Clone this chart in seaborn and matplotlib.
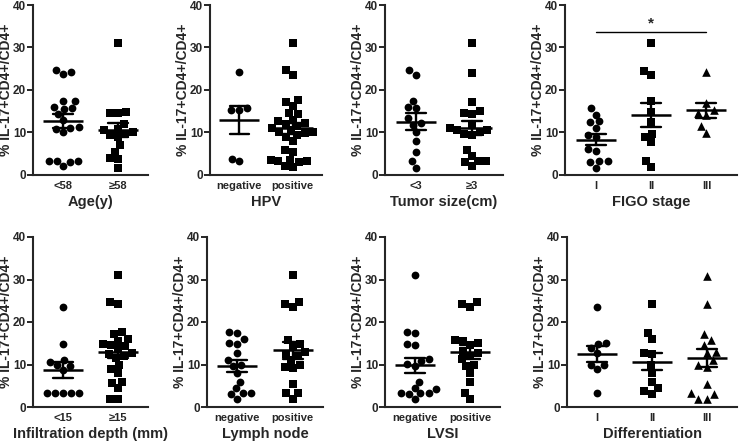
import matplotlib

matplotlib.use("Agg")
import matplotlib.pyplot as plt
import numpy as np
import pandas as pd
import seaborn as sns

# % IL-17+CD4+/CD4+ values, one list per group
age_lt58 = [24.7, 23.7, 24.3, 17.5, 17.3, 15.8, 15.9, 15.5, 14.3, 12.9, 11.0, 10.9, 11.3, 10.2, 3.3, 3.3, 2.0, 3.2, 3.1]
age_ge58 = [31.0, 14.9, 14.7, 14.5, 12.0, 10.8, 10.5, 10.0, 9.7, 9.3, 8.9, 7.0, 5.5, 4.0, 3.8, 1.7]

hpv_neg = [24.3, 15.2, 15.4, 15.8, 3.2, 3.8]
hpv_pos = [31.0, 24.6, 23.6, 17.6, 17.2, 16.2, 14.6, 14.4, 13.0, 12.7, 12.3, 12.0, 11.5, 11.0, 10.5,
           10.2, 10.0, 9.8, 9.5, 9.0, 8.0, 5.8, 5.5, 3.5, 3.3, 3.2, 3.0, 2.0, 1.8, 3.6]

size_lt3 = [24.7, 23.6, 17.5, 15.8, 15.9, 13.3, 12.3, 11.8, 10.1, 7.9, 5.5, 3.3, 1.7]
size_ge3 = [31.0, 24.1, 17.2, 15.0, 14.6, 14.4, 12.0, 11.0, 10.5, 10.6, 10.0, 9.7, 9.3, 5.9, 4.4, 3.4, 3.2, 3.0, 2.0]

figo_1 = [15.7, 14.2, 12.6, 12.4, 11.0, 9.5, 9.0, 6.0, 5.6, 3.4, 3.3, 3.0, 1.7]
figo_2 = [31.0, 24.5, 23.5, 17.3, 14.8, 12.5, 9.6, 9.0, 7.8, 3.3, 1.9]
figo_3 = [24.2, 17.0, 15.2, 14.6, 14.0, 11.5, 9.9]

depth_lt15 = [23.6, 14.8, 11.0, 10.5, 9.9, 9.7, 8.6, 3.3, 3.3, 3.2, 3.3, 3.3]
depth_ge15 = [31.0, 24.6, 24.2, 17.6, 17.2, 16.0, 15.6, 14.8, 14.5, 14.3, 13.6, 12.8, 12.5, 12.0,
              11.5, 9.8, 9.0, 8.0, 6.0, 5.6, 4.4, 2.0, 1.8]

lymph_neg = [17.6, 17.3, 16.0, 15.0, 14.8, 12.8, 11.0, 10.0, 9.6, 8.0, 6.0, 4.4, 3.4, 3.2, 3.0, 1.8]
lymph_pos = [31.0, 24.6, 24.2, 23.6, 15.8, 14.8, 14.3, 13.0, 12.4, 12.0, 11.0, 10.0, 9.4, 9.2, 5.5, 3.3, 3.2, 2.0]

lvsi_neg = [31.0, 17.6, 17.3, 14.9, 14.5, 11.2, 10.8, 10.2, 9.6, 6.0, 4.5, 4.2, 3.4, 3.2, 3.0, 3.3, 1.8]
lvsi_pos = [24.6, 24.2, 23.6, 15.8, 15.6, 15.0, 14.6, 13.2, 12.6, 12.1, 11.2, 10.0, 9.6, 8.0, 6.0, 3.3, 1.9]

diff_1 = [23.6, 15.0, 14.9, 14.0, 12.8, 10.0, 10.0, 8.9, 3.4]
diff_2 = [24.2, 17.5, 15.9, 12.6, 12.4, 9.8, 8.0, 6.0, 4.4, 3.8, 3.1]
diff_3 = [30.8, 24.2, 17.1, 15.8, 14.5, 13.0, 12.6, 11.0, 10.0, 9.5, 5.4, 3.2, 3.0, 2.0, 1.8]

two_pos = ["negative", "positive"]
stages = ["I", "II", "III"]

# (xlabel, categories, groups)
panels = [
    ("Age(y)", ["<58", "\u226558"], [age_lt58, age_ge58]),
    ("HPV", two_pos, [hpv_neg, hpv_pos]),
    ("Tumor size(cm)", ["<3", "\u22653"], [size_lt3, size_ge3]),
    ("FIGO stage", stages, [figo_1, figo_2, figo_3]),
    ("Infiltration depth (mm)", ["<15", "\u226515"], [depth_lt15, depth_ge15]),
    ("Lymph node", two_pos, [lymph_neg, lymph_pos]),
    ("LVSI", two_pos, [lvsi_neg, lvsi_pos]),
    ("Differentiation", stages, [diff_1, diff_2, diff_3]),
]

# axes boxes in pixels: left, right, top, bottom
boxes = [
    (33, 148, 5, 175), (210, 322, 5, 175), (385, 503, 5, 175), (565, 737, 5, 175),
    (33, 148, 237, 407), (207, 323, 237, 407), (385, 500, 237, 407), (567, 737, 237, 407),
]

figo_sig_y = 33.6
markers = ["o", "s", "^"]

sns.set_style("ticks")
plt.rcParams["font.family"] = ["Liberation Sans", "DejaVu Sans"]
plt.rcParams["font.weight"] = "bold"
plt.rcParams["axes.labelweight"] = "bold"

W, H = 739, 442
fig = plt.figure(figsize=(W / 100, H / 100), dpi=100)

for (xlabel, cats, groups), (l, r, t, b) in zip(panels, boxes):
    ax = fig.add_axes([l / W, 1 - b / H, (r - l) / W, (b - t) / H])
    df = pd.DataFrame(
        {"group": np.repeat(cats, [len(g) for g in groups]), "value": np.concatenate(groups)}
    )
    for cat, m in zip(cats, markers):
        sns.swarmplot(
            data=df[df["group"] == cat], x="group", y="value", order=cats,
            marker=m, color="black", size=5.6 if m != "^" else 6.2,
            linewidth=0, ax=ax, warn_thresh=1,
        )
    sns.pointplot(
        data=df, x="group", y="value", order=cats, errorbar="se", capsize=0.36,
        color="black", marker="_", markersize=29, markeredgewidth=1.8,
        linestyle="none", err_kws={"linewidth": 1.7}, ax=ax,
    )
    ax.set_xlim(-0.55, len(cats) - 0.45)
    ax.set_ylim(0, 40)
    ax.set_yticks([0, 10, 20, 30, 40])
    ax.set_xticks(range(len(cats)))
    ax.set_xticklabels(cats, fontsize=8, fontweight="bold")
    ax.tick_params(axis="y", labelsize=8.5, width=1.4, length=4, pad=1)
    ax.tick_params(axis="x", length=0, pad=4)
    for lab in ax.get_yticklabels():
        lab.set_fontweight("bold")
    ax.set_xlabel(xlabel, fontsize=10.5, fontweight="bold", labelpad=3)
    ax.set_ylabel("% IL-17+CD4+/CD4+", fontsize=10, fontweight="bold", labelpad=0)
    sns.despine(ax=ax)
    for s in ("left", "bottom"):
        ax.spines[s].set_linewidth(1.5)
    if xlabel == "FIGO stage":
        ax.plot([0, 2], [figo_sig_y, figo_sig_y], color="black", lw=1.0)
        ax.text(1, figo_sig_y + 0.3, "*", ha="center", va="bottom", fontsize=11, fontweight="bold")

fig.savefig("out.png", dpi=100)
